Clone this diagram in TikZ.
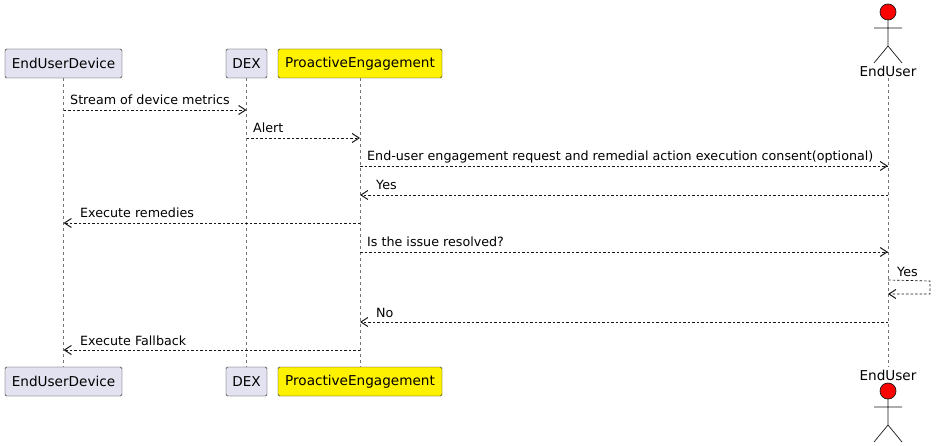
\documentclass[tikz,border=0pt]{standalone}
\usepackage{fontspec}
\setmainfont{DejaVu Sans}
\usetikzlibrary{arrows.meta}
\definecolor{pbox}{HTML}{E2E2F0}
\definecolor{pline}{HTML}{181818}
\begin{document}
\begin{tikzpicture}[x=1pt,y=-1pt,
  txt/.style={font=\fontsize{13.6}{15}\selectfont,inner sep=0pt},
  part/.style={draw=pline,fill=pbox,minimum height=29pt,inner sep=4pt,rounded corners=1.5pt,txt,inner xsep=4pt},
  life/.style={draw=pline!60,dash pattern=on 3pt off 3pt,line width=0.5pt},
  msg/.style={draw=pline,dash pattern=on 2.5pt off 2pt,line width=0.7pt,-{Straight Barb[length=7pt,width=9pt,line width=1pt]}},
  lbl/.style={font=\fontsize{12.7}{14}\selectfont,inner sep=0pt,anchor=base west},
  actor/.style={draw=pline,line width=0.7pt}]
\useasboundingbox (0,0) rectangle (936,446);
% participants
\foreach \n/\x/\w/\t/\c in {a/63.5/117/EndUserDevice/pbox,b/246.5/41/DEX/pbox,c/360/164/ProactiveEngagement/yellow}{
  \node[part,fill=\c,minimum width=\w pt] (\n top) at (\x,63.5) {\t};
  \node[part,fill=\c,minimum width=\w pt] (\n bot) at (\x,381.5) {\t};
  \draw[life] (\n top.south) -- (\n bot.north);
}
% actor
\coordinate (dtop) at (888,78);
\coordinate (dbot) at (888,367);
\draw[life] (dtop) -- (dbot);
\node[txt,anchor=base] (dlab) at (888,77) {EndUser};
\node[txt,anchor=base] (dlab2) at (888,380) {EndUser};
\foreach \y in {0,379}{
  \draw[actor,fill=red] (888,12+\y) circle (8);
  \draw[actor] (888,20+\y) -- (888,46+\y) (874,28+\y) -- (902,28+\y)
     (874,63+\y) -- (888,46+\y) -- (902,63+\y);
}
\foreach \n/\x in {a/63.5,b/246.5,c/360,d/888}{
  \foreach \y in {110,138,166,195,223,252,280,322,350}{\coordinate (\n\y) at (\x,\y);}
}
\draw[msg] (a110) -- (b110); \node[lbl] at (70,105) {Stream of device metrics};
\draw[msg] (b138) -- (c138); \node[lbl] at (253,133) {Alert};
\draw[msg] (c166) -- (d166); \node[lbl] at (367,161) {End-user engagement request and remedial action execution consent(optional)};
\draw[msg] (d195) -- (c195); \node[lbl] at (376,190) {Yes};
\draw[msg] (c223) -- (a223); \node[lbl] at (80,218) {Execute remedies};
\draw[msg] (c252) -- (d252); \node[lbl] at (367,247) {Is the issue resolved?};
\coordinate (s1) at (930,281); \coordinate (s2) at (930,294);
\draw[msg] (d280) -- (s1) -- (s2) -- (888,294); \node[lbl] at (897,276) {Yes};
\draw[msg] (d322) -- (c322); \node[lbl] at (376,317) {No};
\draw[msg] (c350) -- (a350); \node[lbl] at (80,345) {Execute Fallback};
\end{tikzpicture}
\end{document}
